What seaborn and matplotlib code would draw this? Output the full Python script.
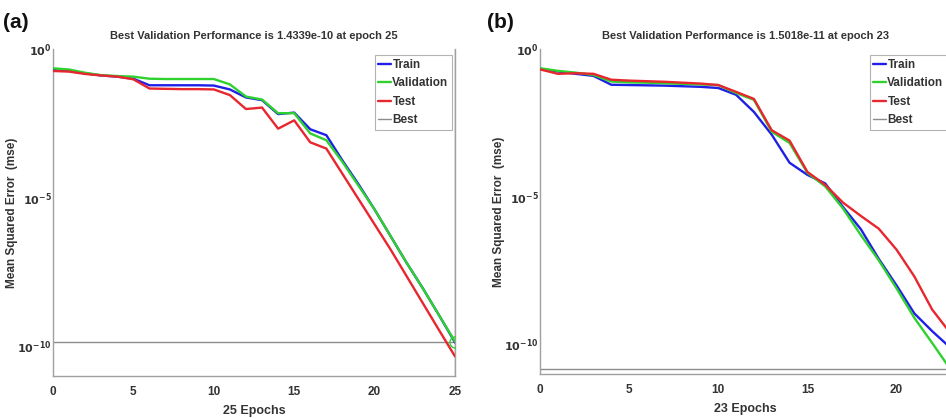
import numpy as np
import pandas as pd
import matplotlib
matplotlib.use("Agg")
import matplotlib.pyplot as plt
import seaborn as sns
from matplotlib.lines import Line2D
from matplotlib.ticker import FixedLocator, NullFormatter

# ---------------- data (log10 of mse) ----------------
epochs_a = list(range(0, 26))
a_train_log10 = [-0.71, -0.74, -0.82, -0.89, -0.93, -1.00, -1.22, -1.22, -1.22, -1.22, -1.23,
                 -1.36, -1.63, -1.72, -2.19, -2.14, -2.70, -2.90, -3.75, -4.55, -5.40,
                 -6.30, -7.20, -8.05, -8.95, -9.87]
a_val_log10 = [-0.65, -0.69, -0.80, -0.88, -0.91, -0.93, -1.00, -1.01, -1.01, -1.01, -1.01,
               -1.19, -1.60, -1.70, -2.16, -2.16, -2.84, -3.07, -3.80, -4.60, -5.40,
               -6.30, -7.20, -8.05, -8.95, -9.84]
a_test_log10 = [-0.74, -0.76, -0.84, -0.89, -0.93, -1.02, -1.33, -1.34, -1.35, -1.35, -1.36,
                -1.55, -2.02, -1.97, -2.68, -2.40, -3.14, -3.35, -4.20, -5.05, -5.90,
                -6.75, -7.65, -8.55, -9.45, -10.34]
a_best_value = 1.4339e-10
a_best_epoch = 25

epochs_b = list(range(0, 24))
b_train_log10 = [-0.67, -0.76, -0.84, -0.91, -1.21, -1.22, -1.23, -1.24, -1.26, -1.28, -1.32,
                 -1.55, -2.13, -2.90, -3.85, -4.26, -4.55, -5.35, -6.10, -7.10, -8.00,
                 -8.95, -9.55, -10.10]
b_val_log10 = [-0.65, -0.74, -0.80, -0.88, -1.10, -1.13, -1.14, -1.16, -1.18, -1.20, -1.22,
               -1.49, -1.72, -2.80, -3.18, -4.19, -4.65, -5.40, -6.30, -7.15, -8.10,
               -9.10, -9.95, -10.82]
b_test_log10 = [-0.69, -0.84, -0.82, -0.84, -1.04, -1.07, -1.09, -1.11, -1.14, -1.17, -1.22,
                -1.45, -1.69, -2.75, -3.10, -4.16, -4.60, -5.20, -5.65, -6.08, -6.79,
                -7.70, -8.82, -9.60]
b_best_value = 1.5018e-11
b_best_epoch = 23

x_ticks = [0, 5, 10, 15, 20, 25]
series_names = ["Train", "Validation", "Test"]
colors = {"Train": "#1f1fe6", "Validation": "#2ed12e", "Test": "#e8262e"}
best_color = "#8c8c8c"

sns.set_theme(style="white")
plt.rcParams["font.family"] = ["Liberation Sans Narrow", "Liberation Sans", "DejaVu Sans"]

fig = plt.figure(figsize=(9.46, 4.19), dpi=100)

W, H = 946, 419
def ax_rect(l, r, t, b):
    return [l / W, (H - b) / H, (r - l) / W, (b - t) / H]

ax_a = fig.add_axes(ax_rect(53, 455, 49, 376))
ax_b = fig.add_axes(ax_rect(540, 950, 49, 374))


def build_df(epochs, tr, va, te):
    rows = []
    for name, vals in zip(series_names, [tr, va, te]):
        for e, v in zip(epochs, vals):
            rows.append({"epoch": e, "mse": 10.0 ** v, "set": name})
    return pd.DataFrame(rows)


def draw_panel(ax, df, n_epochs, best_epoch, best_value, title, xlabel, circle, ylab_x):
    ax.axhline(best_value, color=best_color, lw=1.0, zorder=1)
    ax.axvline(best_epoch, color=best_color, lw=1.0, zorder=1)
    sns.lineplot(data=df, x="epoch", y="mse", hue="set", palette=colors,
                 hue_order=series_names, ax=ax, legend=False, lw=1.7, zorder=3)
    if circle:
        ax.plot([best_epoch], [best_value], marker="o", ms=8, mfc="none",
                mec=colors["Validation"], mew=1.0, zorder=4)
    ax.set_yscale("log")
    ax.yaxis.set_major_locator(FixedLocator([1e0, 1e-5, 1e-10]))
    ax.yaxis.set_minor_locator(FixedLocator([10.0 ** k for k in range(-11, 1)]))
    ax.yaxis.set_minor_formatter(NullFormatter())
    ax.set_yticklabels([r"$\mathbf{10^{0}}$", r"$\mathbf{10^{-5}}$", r"$\mathbf{10^{-10}}$"])
    ax.set_xticks([t for t in x_ticks if t <= n_epochs])
    ax.set_ylim(1e-11, 1)
    ax.set_xlim(0, n_epochs)
    ax.tick_params(axis="both", which="both", direction="in", colors="#999999",
                   labelcolor="#333333", labelsize=8)
    ax.tick_params(axis="y", which="major", length=4, pad=1)
    ax.tick_params(axis="y", which="minor", length=2.5)
    ax.tick_params(axis="x", length=4, pad=7, labelsize=8.5)
    for lab in ax.get_xticklabels():
        lab.set_fontweight("bold")
    for s in ["left", "bottom", "right"]:
        ax.spines[s].set_color("#a0a0a0")
        ax.spines[s].set_linewidth(1.0)
    ax.spines["top"].set_visible(False)
    ax.set_title(title, fontsize=8, fontweight="bold", color="#333333", pad=7)
    ax.set_xlabel(xlabel, fontsize=9, fontweight="bold", color="#333333", labelpad=5)
    ax.set_ylabel("Mean Squared Error  (mse)", fontsize=8.5, fontweight="bold",
                  color="#333333")
    ax.yaxis.set_label_coords(ylab_x, 0.5)
    handles = [Line2D([], [], color=colors[n], lw=1.7) for n in series_names]
    handles.append(Line2D([], [], color=best_color, lw=1.0))
    leg = ax.legend(handles, series_names + ["Best"], loc="upper right",
                    bbox_to_anchor=(1.0, 0.99), frameon=True, fancybox=False,
                    borderaxespad=0.25,
                    handlelength=1.1, handletextpad=0.1, labelspacing=0.55,
                    borderpad=0.3, prop={"size": 8.5, "weight": "bold"})
    leg.get_frame().set_edgecolor("#a0a0a0")
    leg.get_frame().set_linewidth(0.8)
    for t in leg.get_texts():
        t.set_color("#333333")


df_a = build_df(epochs_a, a_train_log10, a_val_log10, a_test_log10)
df_b = build_df(epochs_b, b_train_log10, b_val_log10, b_test_log10)

draw_panel(ax_a, df_a, 25, a_best_epoch, a_best_value,
           "Best Validation Performance is 1.4339e-10 at epoch 25", "25 Epochs", True,
           (18 - 53) / 402)
draw_panel(ax_b, df_b, 23, b_best_epoch, b_best_value,
           "Best Validation Performance is 1.5018e-11 at epoch 23", "23 Epochs", False,
           (505 - 540) / 410)

fig.text(3 / W, 1 - 23 / H, "(a)", fontsize=15, fontweight="bold", va="center",
         ha="left", color="#111111", family=["Liberation Sans", "DejaVu Sans"])
fig.text(487 / W, 1 - 23 / H, "(b)", fontsize=15, fontweight="bold", va="center",
         ha="left", color="#111111", family=["Liberation Sans", "DejaVu Sans"])

fig.savefig("out.png", dpi=100)
